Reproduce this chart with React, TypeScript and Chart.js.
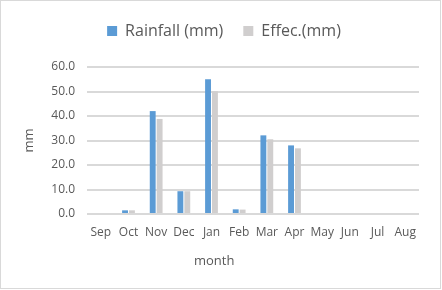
import React, { useEffect, useRef } from "react";
import { Chart, registerables, layouts } from "chart.js";

Chart.register(...registerables);

const months = ["Sep", "Oct", "Nov", "Dec", "Jan", "Feb", "Mar", "Apr", "May", "Jun", "Jul", "Aug"];
const rainfall = [0, 1.5, 42, 9.3, 55, 1.9, 32.1, 28, 0, 0, 0, 0];
const effective = [0, 1.5, 38.8, 9.3, 50.1, 1.8, 30.5, 26.8, 0, 0, 0, 0];
const yMin = 0;
const yMax = 60;
const yStep = 10;

const FONT = "'Open Sans', 'Liberation Sans', sans-serif";
const TEXT = "#595959";
const GRID = "#d9d9d9";

function makeSpacer(position: string, size: number, fullSize: boolean, weight: number) {
  return {
    position,
    weight,
    fullSize,
    options: { stackWeight: 1 },
    top: 0,
    left: 0,
    right: 0,
    bottom: 0,
    width: 0,
    height: 0,
    isHorizontal() {
      return position === "top" || position === "bottom";
    },
    update(maxWidth: number, maxHeight: number) {
      if (this.isHorizontal()) {
        this.width = maxWidth;
        this.height = size;
      } else {
        this.width = size;
        this.height = maxHeight;
      }
    },
    draw() {},
  };
}

const spacers = {
  id: "spacers",
  beforeInit(chart: any) {
    layouts.addBox(chart, makeSpacer("top", 18, true, 500) as any);
    layouts.addBox(chart, makeSpacer("right", 23, false, 500) as any);
  },
};

const monthTitle = {
  id: "monthTitle",
  afterDraw(chart: any) {
    const { ctx, chartArea } = chart;
    ctx.save();
    ctx.font = `13px ${FONT}`;
    ctx.fillStyle = TEXT;
    ctx.textAlign = "center";
    ctx.textBaseline = "middle";
    const x = chartArea.left + (chartArea.right - chartArea.left) * 0.383;
    ctx.fillText("month", x, chartArea.bottom + 47);
    ctx.restore();
  },
};

export default function App() {
  const ref = useRef<HTMLCanvasElement | null>(null);
  useEffect(() => {
    if (!ref.current) return;
    const chart = new Chart(ref.current, {
      type: "bar",
      data: {
        labels: months,
        datasets: [
          {
            label: "Rainfall (mm)",
            data: rainfall,
            backgroundColor: "#5b9bd5",
            categoryPercentage: 0.5,
            barPercentage: 0.85,
          },
          {
            label: "Effec.(mm)",
            data: effective,
            backgroundColor: "#d0cece",
            categoryPercentage: 0.5,
            barPercentage: 0.85,
          },
        ],
      },
      options: {
        animation: false,
        responsive: false,
        maintainAspectRatio: false,
        devicePixelRatio: 1,
        layout: { padding: { top: 3, right: 0, bottom: 0, left: 6 } },
        plugins: {
          legend: {
            position: "top",
            labels: {
              boxWidth: 10,
              boxHeight: 10,
              padding: 20,
              color: TEXT,
              font: { family: FONT, size: 16 },
            },
          },
          tooltip: { enabled: false },
        },
        scales: {
          x: {
            grid: { display: false, drawTicks: false },
            border: { display: false },
            ticks: { color: TEXT, font: { family: FONT, size: 12 }, padding: 11, maxRotation: 0, autoSkip: false },
            afterFit: (s: any) => {
              s.height = 76;
            },
          },
          y: {
            min: yMin,
            max: yMax,
            grid: { color: GRID, lineWidth: 2, drawTicks: false },
            border: { display: false },
            ticks: {
              stepSize: yStep,
              color: TEXT,
              font: { family: FONT, size: 12 },
              padding: 12,
              callback: (v: any) => Number(v).toFixed(1),
            },
            title: {
              display: true,
              text: "mm",
              color: TEXT,
              font: { family: FONT, size: 13 },
              padding: { top: 15, bottom: 0 },
            },
            afterFit: (s: any) => {
              s.width = 81;
            },
          },
        },
      },
      plugins: [spacers, monthTitle],
    });
    return () => chart.destroy();
  }, []);

  return (
    <div style={{ position: "fixed", left: 0, top: 0, width: 442, height: 290, background: "#fff" }}>
      <canvas ref={ref} width={442} height={290} style={{ position: "absolute", left: 0, top: 0, width: 442, height: 290 }} />
      <div
        style={{
          position: "absolute",
          left: 0,
          top: 0,
          width: 441,
          height: 289,
          boxSizing: "border-box",
          border: "1px solid #d9d9d9",
          pointerEvents: "none",
        }}
      />
    </div>
  );
}
